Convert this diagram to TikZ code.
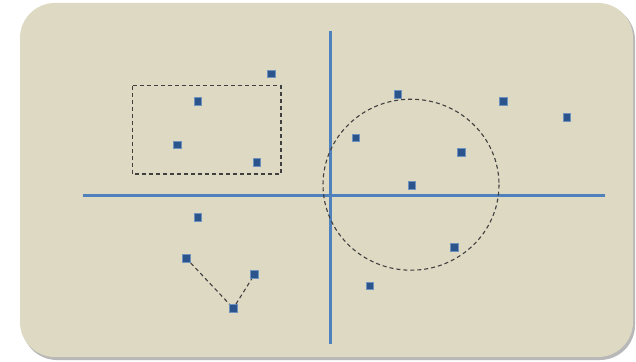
\documentclass[tikz,border=0pt]{standalone}
\usepackage{xcolor}
\usepackage{tikz}
\usetikzlibrary{positioning, calc}
\definecolor{paneltan}{RGB}{221, 217, 195}
\definecolor{axisblue}{RGB}{79, 129, 189}
\definecolor{dotblue}{RGB}{44, 84, 140}
\definecolor{dotrim}{RGB}{110, 145, 190}

\begin{document}
\begin{tikzpicture}[
  x=1pt, y=-1pt,
  panel/.style={fill=paneltan, rounded corners=35pt},
  shade/.style={fill=black!28, rounded corners=35pt},
  axis/.style={draw=axisblue, line width=3pt},
  dot/.style={draw=dotrim, fill=dotblue, line width=1pt, rectangle, minimum size=7.5pt, inner sep=0pt},
  hint/.style={draw=black!75, line width=1.1pt, dash pattern=on 4pt off 3pt}
]
  \useasboundingbox (0, 0) rectangle (636, 361);

  % background panel
  \fill[shade] (22, 5) rectangle (635, 360);
  \fill[panel] (20, 3) rectangle (633, 357);

  % axes
  \draw[axis] (330, 31) -- (330, 344);
  \draw[axis] (83, 195) -- (605, 195);

  % dashed regions
  \draw[hint] (132.7, 85.7) rectangle (281, 174);
  \draw[hint] (411, 184.7) ellipse (88 and 85.5);

  % points
  \node[dot] (a1) at (271.3, 74) {};
  \node[dot] (a2) at (198, 101.3) {};
  \node[dot] (a3) at (177.3, 145) {};
  \node[dot] (a4) at (257, 162.7) {};

  \node[dot] (b1) at (398, 94.7) {};
  \node[dot] (b2) at (356, 138) {};
  \node[dot] (b3) at (503.7, 101.3) {};
  \node[dot] (b4) at (567, 117.7) {};
  \node[dot] (b5) at (461.3, 152.7) {};
  \node[dot] (b6) at (412, 185.7) {};
  \node[dot] (b7) at (454.7, 247.3) {};
  \node[dot] (b8) at (370, 286) {};

  \node[dot] (c1) at (198, 217.3) {};
  \node[dot] (c2) at (186.7, 258.7) {};
  \node[dot] (c3) at (254.3, 274.7) {};
  \node[dot] (c4) at (233.3, 308.3) {};

  % links
  \draw[hint] (c2) -- (c4) -- (c3);

\end{tikzpicture}
\end{document}
